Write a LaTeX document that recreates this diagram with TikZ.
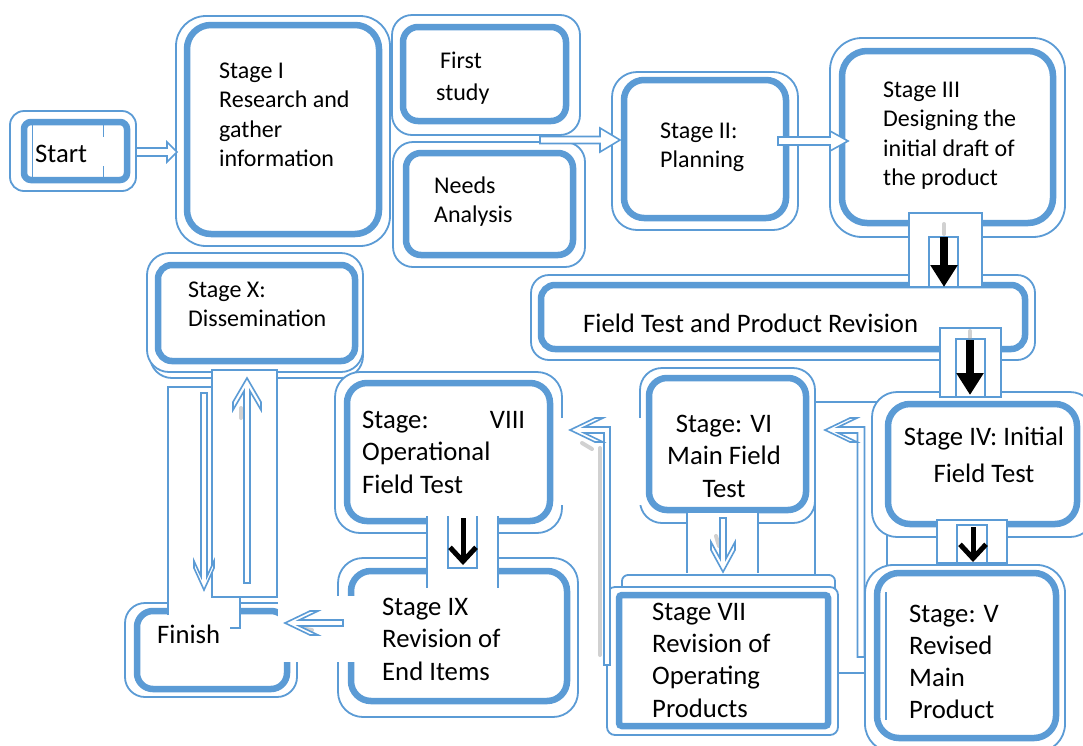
\documentclass[tikz,border=0pt]{standalone}
\usepackage{fontspec}
\setmainfont{Carlito}
\usetikzlibrary{calc,fit,arrows.meta}
\definecolor{bl}{HTML}{5B9BD5}
% struts that fix the height of a first text line
\newcommand\linetop{\rule{0pt}{19pt}}
\newcommand\linetopb{\rule{0pt}{22pt}}
% direction and length from one named point to another
\newcommand\arrowgeom[2]{%
  \path let \p1=($(#2)-(#1)$) in \pgfextra{%
    \pgfmathsetmacro\tmpang{atan2(\y1,\x1)}\global\let\arrang\tmpang
    \pgfmathsetmacro\tmplen{veclen(\x1,\y1)}\global\let\arrlen\tmplen};}
% outlined block arrow with a triangular head: start, end, shaft half width, head half width, head length
\newcommand\hollowtri[5]{%
  \arrowgeom{#1}{#2}%
  \begin{scope}[shift={(#2)}, rotate=\arrang]
    \draw[hollow] (-\arrlen,#3) -- (-#5,#3) -- (-#5,#4) -- (0,0) -- (-#5,-#4) -- (-#5,-#3) -- (-\arrlen,-#3) -- cycle;
  \end{scope}}
% outlined arrow with a chevron head: start, end, shaft half width, head half width, head length, arm depth
\newcommand\hollowchev[6]{%
  \arrowgeom{#1}{#2}%
  \pgfmathsetmacro\chevj{#6+#5*#3/#4}%
  \begin{scope}[shift={(#2)}, rotate=\arrang]
    \draw[hollow] (-\arrlen,#3) -- (-\chevj,#3) -- ({-#5-#6},#4) -- (-#5,#4) -- (0,0) -- (-#5,-#4)
      -- ({-#5-#6},-#4) -- (-\chevj,-#3) -- (-\arrlen,-#3) -- cycle;
  \end{scope}}
\tikzset{
  outer/.style={draw=bl, line width=1.8pt, fill=white},
  box/.style={draw=bl, line width=6.5pt, fill=white, inner sep=0pt, rectangle},
  frame/.style={draw=bl, line width=1.6pt, fill=white},
  hollow/.style={draw=bl, line width=1.6pt, fill=white, line join=miter},
  txt/.style={font=\fontsize{24}{29.5}\selectfont, inner sep=0pt, align=left, anchor=north west},
  btxt/.style={txt, font=\fontsize{26.7}{32.5}\selectfont},
  cbtxt/.style={btxt, align=center, anchor=north},
  blackarrow/.style={line width=8pt, -{Triangle[length=22pt,width=26pt]}},
  chevarrow/.style={line width=5pt, -{Straight Barb[length=14pt,width=26pt]}},
  shade/.style={draw=black!40, line width=4pt, opacity=.45, line cap=round},
}
\begin{document}
\begin{tikzpicture}[x=1pt,y=-1pt]
\useasboundingbox (0,0) rectangle (1083,745);
\clip (0,0) rectangle (1083,745);
\fill[white] (0,0) rectangle (1083,745);

% ---------- Start ----------
\draw[outer, rounded corners=14pt] (10,111) rectangle (136,191);
\node[box, rounded corners=7pt, fit={(24,122) (127,180)}] (start) {};
\draw[bl, line width=1pt] (32,125) -- (32,177) (103,125) -- (103,137) (103,166) -- (103,177);
\node[btxt] (startt) at (35,140) {\linetopb Start};

% ---------- Stage I ----------
\draw[outer, rounded corners=30pt] (176,16) rectangle (390,246);
\node[box, rounded corners=24pt, fit={(187,25) (379,234)}] (s1) {};
\node[txt] (s1t) at (219,59) {\linetop Stage I\\Research and\\gather\\information};

% ---------- First study / Needs Analysis ----------
\draw[outer, rounded corners=20pt] (392,15) rectangle (580,135);
\node[box, rounded corners=15pt, fit={(403,27) (566,121)}] (fs) {};
\node[txt, font=\fontsize{24}{32}\selectfont] (fst) at (436,49) {\linetop\hspace{4pt}First\\study};
\draw[outer, rounded corners=20pt] (393,142) rectangle (585,267);
\node[box, rounded corners=15pt, fit={(406,153) (573,255)}] (na) {};
\node[txt] (nat) at (434,174) {\linetop Needs\\Analysis};

% ---------- Stage II ----------
\draw[outer, rounded corners=25pt] (612,72) rectangle (798,230);
\node[box, rounded corners=20pt, fit={(624,80) (786,218)}] (s2) {};
\node[txt] (s2t) at (660,119) {\linetop Stage II:\\Planning};

% ---------- Stage III ----------
\draw[outer, rounded corners=32pt] (830,38) rectangle (1065,237);
\node[box, rounded corners=25pt, fit={(842,51) (1053,223)}] (s3) {};
\node[txt] (s3t) at (883,78) {\linetop Stage III\\Designing the\\initial draft of\\the product};

% ---------- arrows of the top row ----------
\coordinate (a1s) at (136,152); \coordinate (a1e) at (177,152);
\hollowtri{a1s}{a1e}{4}{10}{10}
\coordinate (a2s) at (540,140); \coordinate (a2e) at (620,140);
\hollowtri{a2s}{a2e}{3.5}{12}{20}
\coordinate (a3s) at (778,141); \coordinate (a3e) at (848,141);
\hollowtri{a3s}{a3e}{4}{10}{18}

% ---------- Field Test and Product Revision ----------
\draw[outer, rounded corners=18pt] (531,275) rectangle (1035,360);
\node[box, rounded corners=14pt, fit={(541,285) (1025,349)}] (ft) {};
\node[btxt] (ftt) at (583,310) {\linetopb Field Test and Product Revision};

% frame behind Stage IV, V, VI and VII
\draw[frame] (815,402) rectangle (887,673);

% ---------- Stage IV ----------
\draw[outer, rounded corners=25pt] (872,392) rectangle (1095,537);
\node[box, rounded corners=22pt, fit={(888,404) (1077,524)}] (s4) {};
\node[cbtxt, font=\fontsize{26.7}{37}\selectfont] (s4t) at (984,423) {\linetopb Stage IV: Initial\\Field Test};

% ---------- III -> Field Test -> IV ----------
\draw[frame] (909,213) rectangle (982,287);
\draw[frame] (929,237) rectangle (958,287);
\draw[shade] (944,224) -- (944,234);
\coordinate (b1s) at (944,237); \coordinate (b1e) at (944,287);
\draw[blackarrow] (b1s) -- (b1e);
\draw[frame] (940,328) rectangle (1001,397);
\draw[frame] (956,339) rectangle (985,397);
\draw[shade] (970,331) -- (970,338);
\coordinate (b2s) at (970,340); \coordinate (b2e) at (970,395);
\draw[blackarrow] (b2s) -- (b2e);

% ---------- Stage VI ----------
\draw[outer, rounded corners=22pt] (640,368) rectangle (815,523);
\node[box, rounded corners=18pt, fit={(649,378) (806,510)}] (s6) {};
\node[cbtxt] (s6t) at (724,410) {\linetopb Stage: VI\\Main Field\\Test};

% ---------- Stage VII ----------
\draw[outer, rounded corners=6pt] (622,575) rectangle (835,700);
\draw[outer, rounded corners=8pt] (607,587) rectangle (838,735);
\node[box, rounded corners=3pt, fit={(619,595) (828,726)}] (s7) {};
\node[btxt, font=\fontsize{26.7}{32.3}\selectfont] (s7t) at (652,598) {\linetopb Stage VII\\Revision of\\Operating\\Products};

% ---------- Stage V ----------
\draw[outer, rounded corners=28pt] (865,565) rectangle (1065,752);
\node[box, rounded corners=22pt, fit={(877,573) (1056,738)}] (s5) {};
\draw[bl, line width=1.4pt] (886,592) -- (886,720);
\node[btxt, font=\fontsize{26.7}{32}\selectfont] (s5t) at (909,600) {\linetopb Stage: V\\Revised\\Main\\Product};

% ---------- IV -> V ----------
\draw[frame] (937,520) rectangle (1007,563);
\draw[frame] (957,525) rectangle (987,563);
\coordinate (b3s) at (973,527); \coordinate (b3e) at (973,562);
\draw[chevarrow] (b3s) -- (b3e);

% ---------- VI -> VII ----------
\fill[white] (687,513) rectangle (758,573);
\draw[bl, line width=1.6pt] (687,513) -- (687,573) (758,513) -- (758,573);
\draw[shade] (716,536) -- (719,546);
\coordinate (a6s) at (723,518); \coordinate (a6e) at (723,572);
\hollowchev{a6s}{a6e}{3}{12}{22}{8}

% ---------- V -> VI (bent) ----------
\coordinate (v6b) at (861,657); \coordinate (v6c) at (861,430); \coordinate (v6t) at (825,430);
\draw[hollow] ($(v6b)+(-3.5,0)$) -- ($(v6c)+(-3.5,3)$) -- ($(v6t)+(13.25,3)$) -- ($(v6t)+(32,12)$)
  -- ($(v6t)+(25,12)$) -- (v6t) -- ($(v6t)+(25,-12)$) -- ($(v6t)+(32,-12)$) -- ($(v6t)+(13.25,-3)$)
  -- ($(v6c)+(3.5,-3)$) -- ($(v6b)+(3.5,0)$) -- cycle;

% ---------- Stage X ----------
\draw[outer, rounded corners=22pt] (150,259) rectangle (363,378);
\draw[outer, rounded corners=22pt] (147,253) rectangle (363,372);
\node[box, rounded corners=14pt, fit={(158,265) (355,361)}] (s10) {};
\node[txt] (s10t) at (188,278) {\linetop Stage X:\\Dissemination};

% ---------- Finish ----------
\draw[outer, rounded corners=20pt] (125,603) rectangle (297,697);
\node[box, rounded corners=16pt, fit={(137,611) (287,689)}] (fin) {};

% ---------- Stage VIII ----------
\draw[outer, rounded corners=25pt] (335,372) rectangle (562,533);
\node[box, rounded corners=20pt, fit={(347,383) (550,521)}] (s8) {};
\node[btxt] (s8t) at (362,406) {\linetopb\hbox to 163pt{Stage:\hfil VIII}\\Operational\\Field Test};

% ---------- Stage IX ----------
\draw[outer, rounded corners=25pt] (338,558) rectangle (578,717);
\node[box, rounded corners=20pt, fit={(351,571) (567,701)}] (s9) {};
\node[btxt] (s9t) at (382,593) {\linetopb Stage IX\\Revision of\\End Items};

% ---------- VIII -> IX ----------
\fill[white] (427,516) rectangle (498,588);
\draw[bl, line width=1.6pt] (427,516) -- (427,588) (498,516) -- (498,588);
\draw[bl, line width=1.6pt] (448,516) -- (448,568) -- (477,568) -- (477,516);
\coordinate (b4s) at (463,518); \coordinate (b4e) at (463,565);
\draw[chevarrow] (b4s) -- (b4e);

% ---------- IX -> Finish, Finish <-> X ----------
\fill[white] (278,596) rectangle (357,662);
\fill[white] (168,387) rectangle (240,628);
\draw[bl, line width=1.6pt] (168,615) -- (168,387) -- (212,387) (240,597) -- (240,628) -- (230,628);
\node[btxt] (fint) at (157,621) {\linetopb Finish};
\draw[frame] (212,370) rectangle (277,597);
\coordinate (xds) at (204,393); \coordinate (xde) at (204,590);
\hollowchev{xds}{xde}{3}{10}{22}{7}
\draw[shade] (241,408) -- (241,418);
\coordinate (xus) at (247,583); \coordinate (xue) at (247,378);
\hollowchev{xus}{xue}{3}{14}{24}{8}
\draw[shade] (300,628) -- (312,630);
\coordinate (a9s) at (343,623); \coordinate (a9e) at (285,623);
\hollowchev{a9s}{a9e}{3}{12}{25}{8}

% ---------- VII -> VIII (bent) ----------
\fill[white] (557,418) rectangle (644,505);
\draw[shade] (600,448) -- (600,655);
\draw[shade] (582,443) -- (592,449);
\coordinate (v8b) at (607,665); \coordinate (v8c) at (607,430); \coordinate (v8t) at (570,430);
\draw[hollow] ($(v8b)+(-3,0)$) -- ($(v8c)+(-3,3)$) -- ($(v8t)+(14.25,3)$) -- ($(v8t)+(33,12)$)
  -- ($(v8t)+(25,12)$) -- (v8t) -- ($(v8t)+(25,-12)$) -- ($(v8t)+(33,-12)$) -- ($(v8t)+(14.25,-3)$)
  -- ($(v8c)+(3,-3)$) -- ($(v8b)+(3,0)$) -- cycle;
\end{tikzpicture}
\end{document}
